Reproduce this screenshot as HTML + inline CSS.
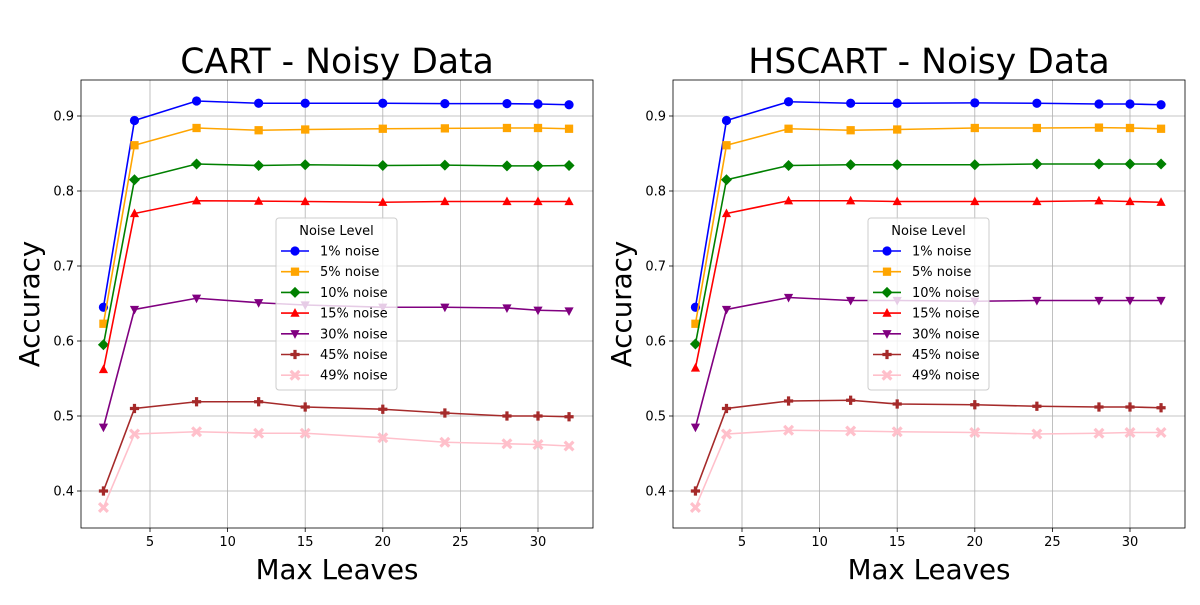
<!DOCTYPE html>
<html><head><meta charset="utf-8"><style>
body{margin:0;background:#fff;font-family:"Liberation Sans","DejaVu Sans",sans-serif}
svg text{font-family:"DejaVu Sans","Liberation Sans",sans-serif}
</style></head><body>
<svg id="c" width="1200" height="600" xmlns="http://www.w3.org/2000/svg"></svg>
<script>
const xValues=[2,4,8,12,15,20,24,28,30,32];
const seriesNames=["1% noise","5% noise","10% noise","15% noise","30% noise","45% noise","49% noise"];
const seriesColors=["blue","orange","green","red","purple","brown","pink"];
const seriesMarkers=["o","s","D","^","v","P","X"];
const cartValues=[
[0.645,0.894,0.920,0.917,0.917,0.917,0.9165,0.9165,0.916,0.915],
[0.623,0.861,0.884,0.881,0.882,0.883,0.8835,0.884,0.884,0.883],
[0.595,0.815,0.836,0.834,0.835,0.834,0.8345,0.8335,0.8335,0.834],
[0.562,0.770,0.787,0.7865,0.786,0.785,0.786,0.786,0.786,0.786],
[0.485,0.642,0.657,0.651,0.648,0.645,0.645,0.644,0.641,0.640],
[0.400,0.510,0.519,0.519,0.512,0.509,0.504,0.500,0.500,0.499],
[0.378,0.476,0.479,0.477,0.477,0.471,0.465,0.463,0.462,0.460]];
const hscartValues=[
[0.645,0.894,0.919,0.917,0.917,0.9175,0.917,0.916,0.916,0.915],
[0.623,0.861,0.883,0.881,0.882,0.884,0.884,0.8845,0.884,0.883],
[0.596,0.815,0.834,0.835,0.835,0.835,0.836,0.836,0.836,0.836],
[0.564,0.770,0.787,0.787,0.786,0.786,0.786,0.787,0.786,0.785],
[0.485,0.642,0.658,0.654,0.654,0.653,0.654,0.654,0.654,0.654],
[0.400,0.510,0.520,0.521,0.516,0.515,0.513,0.512,0.512,0.511],
[0.378,0.476,0.481,0.480,0.479,0.478,0.476,0.477,0.478,0.478]];
const xTicks=[5,10,15,20,25,30];
const yTicks=[0.4,0.5,0.6,0.7,0.8,0.9];
const titles=["CART - Noisy Data","HSCART - Noisy Data"];

const svg=document.getElementById('c');
const NS="http://www.w3.org/2000/svg";
function mk(tag,attrs,parent){const e=document.createElementNS(NS,tag);for(const k in attrs)e.setAttribute(k,attrs[k]);(parent||svg).appendChild(e);return e;}
function marker(g,type,cx,cy,color,r){
  let e;
  if(type==="o")e=mk('circle',{cx:cx,cy:cy,r:r,fill:color},g);
  else if(type==="s")e=mk('rect',{x:cx-r*0.9,y:cy-r*0.9,width:r*1.8,height:r*1.8,fill:color},g);
  else if(type==="D")e=mk('polygon',{points:`${cx},${cy-r*1.2} ${cx+r*1.2},${cy} ${cx},${cy+r*1.2} ${cx-r*1.2},${cy}`,fill:color},g);
  else if(type==="^")e=mk('polygon',{points:`${cx},${cy-r*1.1} ${cx+r},${cy+r*0.8} ${cx-r},${cy+r*0.8}`,fill:color},g);
  else if(type==="v")e=mk('polygon',{points:`${cx},${cy+r*1.1} ${cx+r},${cy-r*0.8} ${cx-r},${cy-r*0.8}`,fill:color},g);
  else if(type==="P"){const a=r,b=r*0.35;e=mk('path',{d:`M${cx-b},${cy-a}h${2*b}v${a-b}h${a-b}v${2*b}h${-(a-b)}v${a-b}h${-2*b}v${-(a-b)}h${-(a-b)}v${-2*b}h${a-b}z`,fill:color},g);}
  else {const a=r*0.95,w=r*0.35;e=mk('g',{},g);
    mk('line',{x1:cx-a,y1:cy-a,x2:cx+a,y2:cy+a,stroke:color,'stroke-width':w*2},e);
    mk('line',{x1:cx-a,y1:cy+a,x2:cx+a,y2:cy-a,stroke:color,'stroke-width':w*2},e);}
  return e;
}
function panel(L,x0px,data,title,idx){
  const R=L+512,T=80,B=528;
  const X=v=>x0px+v*15.52;
  const Y=v=>116+(0.9-v)*750;
  const g=mk('g',{});
  
  
  mk('rect',{x:L,y:T,width:512,height:448,fill:'#fff'},g);
  xTicks.forEach(t=>{const x=X(t);
    mk('line',{x1:x,y1:T,x2:x,y2:B,stroke:'#b0b0b0','stroke-width':0.8},g);
    mk('line',{x1:x,y1:B,x2:x,y2:B+4,stroke:'#000','stroke-width':0.8},g);
    const tx=mk('text',{x:x,y:B+18,'font-size':13,'text-anchor':'middle'},g);tx.textContent=t;
    });
  yTicks.forEach(t=>{const y=Y(t);
    mk('line',{x1:L,y1:y,x2:R,y2:y,stroke:'#b0b0b0','stroke-width':0.8},g);
    mk('line',{x1:L-4,y1:y,x2:L,y2:y,stroke:'#000','stroke-width':0.8},g);
    const tx=mk('text',{x:L-7,y:y+4.5,'font-size':13,'text-anchor':'end'},g);tx.textContent=t.toFixed(1);
    });
  data.forEach((s,i)=>{
    const sg=mk('g',{},g);
    
    
    mk('polyline',{points:s.map((v,j)=>X(xValues[j])+','+Y(v)).join(' '),fill:'none',stroke:seriesColors[i],'stroke-width':1.6},sg);
    s.forEach((v,j)=>marker(sg,seriesMarkers[i],X(xValues[j]),Y(v),seriesColors[i],4.6));
  });
  mk('rect',{x:L,y:T,width:512,height:448,fill:'none',stroke:'#000','stroke-width':0.8},g);
  const tt=mk('text',{x:L+256,y:73,'font-size':34.6,'text-anchor':'middle'},g);tt.textContent=title;
  
  const xl=mk('text',{x:L+256,y:579,'font-size':27.7,'text-anchor':'middle'},g);xl.textContent="Max Leaves";
  
  const yl=mk('text',{x:0,y:0,'font-size':27.7,'text-anchor':'middle',transform:`translate(${L-42},304) rotate(-90)`},g);yl.textContent="Accuracy";
  
  const lx=L+195,lg=mk('g',{},g);
  
  mk('rect',{x:lx,y:218,width:121,height:172,rx:3,fill:'#fff','fill-opacity':0.8,stroke:'#ccc'},lg);
  const lt=mk('text',{x:lx+60.5,y:235,'font-size':13,'text-anchor':'middle'},lg);lt.textContent="Noise Level";
  seriesNames.forEach((n,i)=>{const y=251+i*20.7;
    const eg=mk('g',{},lg);
    
    mk('line',{x1:lx+5,y1:y,x2:lx+33,y2:y,stroke:seriesColors[i],'stroke-width':1.6},eg);
    marker(eg,seriesMarkers[i],lx+19,y,seriesColors[i],4.6);
    const t=mk('text',{x:lx+44,y:y+4.5,'font-size':13},eg);t.textContent=n;});
}
panel(81,72.4,cartValues,titles[0],0);
panel(673,664.4,hscartValues,titles[1],1);
</script>
</body></html>
